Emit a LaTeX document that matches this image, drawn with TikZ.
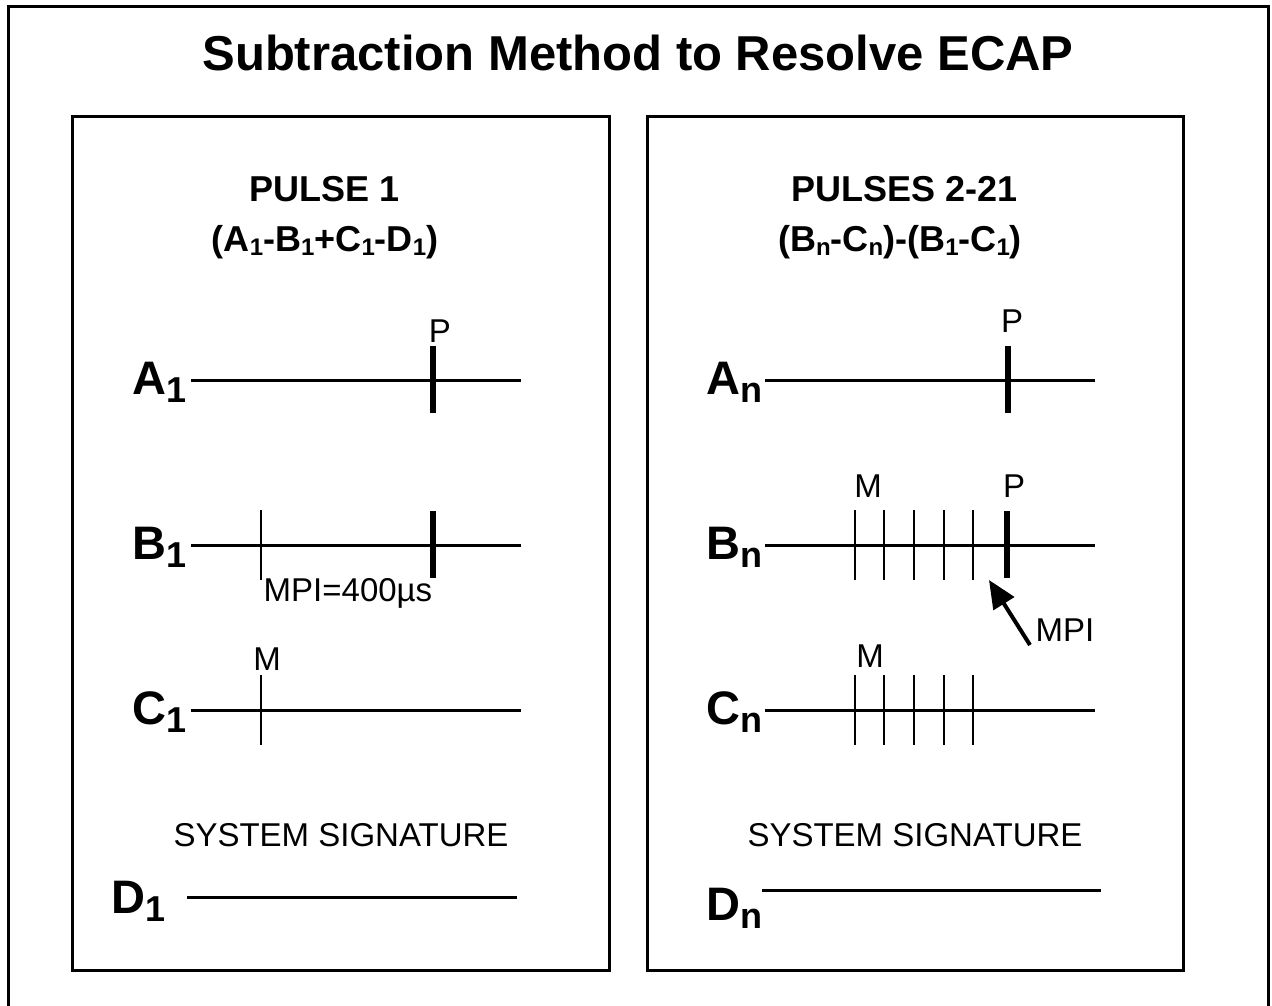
\documentclass[tikz,border=0pt]{standalone}
\usepackage{fontspec}
\setmainfont{Liberation Sans}
\usetikzlibrary{arrows.meta}
\newcommand{\biglab}[2]{{\fontsize{47}{47}\selectfont\bfseries #1\raisebox{-8pt}{\fontsize{36}{36}\selectfont #2}}}
\newcommand{\sbs}[1]{\raisebox{-4pt}{\fontsize{24}{24}\selectfont #1}}
\begin{document}
\begin{tikzpicture}[x=1pt,y=-1pt,
  frame/.style={line width=3pt},
  sig/.style={line width=3pt},
  thintick/.style={line width=2.8pt},
  thicktick/.style={line width=6pt},
  reg/.style={inner sep=0pt,anchor=base,font=\fontsize{33}{33}\selectfont},
  hdr/.style={inner sep=0pt,anchor=base,font=\fontsize{36}{40}\selectfont\bfseries},
  chlab/.style={inner sep=0pt,anchor=base east}]
\useasboundingbox (0,0) rectangle (1272,1006);
% frames
\draw[frame] (8,1020) -- (8,7) -- (1268,7) -- (1268,1020);
\draw[frame] (72,117) rectangle (609,970);
\draw[frame] (647,117) rectangle (1183,970);
% title
\node[inner sep=0pt,anchor=base,font=\fontsize{49}{55}\selectfont\bfseries] (title) at (638,71) {Subtraction Method to Resolve ECAP};
% left panel headers
\node[hdr] (h1) at (325,201) {PULSE 1};
\node[hdr] (h1f) at (325,251) {(A\sbs{1}-B\sbs{1}+C\sbs{1}-D\sbs{1})};
% right panel headers
\node[hdr] (h2) at (905,201) {PULSES 2-21};
\node[hdr] (h2f) at (900,251) {(B\sbs{n}-C\sbs{n})-(B\sbs{1}-C\sbs{1})};
% ---- left panel ----
\node[chlab] (A1) at (187,394) {\biglab{A}{1}};
\draw[sig] (191,380) -- (521,380);
\draw[thicktick] (433,346) -- (433,413);
\node[reg] (pA1) at (440,342) {P};

\node[chlab] (B1) at (187,559) {\biglab{B}{1}};
\draw[sig] (191,545) -- (521,545);
\draw[thintick] (261,510) -- (261,580);
\draw[thicktick] (433,511) -- (433,578);
\node[reg] (mpi1) at (348,601) {MPI=400µs};

\node[chlab] (C1) at (187,724) {\biglab{C}{1}};
\draw[sig] (191,710) -- (521,710);
\draw[thintick] (261,675) -- (261,745);
\node[reg] (mC1) at (267,670) {M};

\node[reg] (ss1) at (341,846) {SYSTEM SIGNATURE};
\node[chlab] (D1) at (166,913) {\biglab{D}{1}};
\draw[sig] (187,897) -- (517,897);
% ---- right panel ----
\node[chlab] (An) at (763,394) {\biglab{A}{n}};
\draw[sig] (765,380) -- (1095,380);
\draw[thicktick] (1008,346) -- (1008,413);
\node[reg] (pAn) at (1012,332) {P};

\node[chlab] (Bn) at (763,559) {\biglab{B}{n}};
\draw[sig] (765,545) -- (1095,545);
\foreach \xx in {855,884,914,944,973}{\draw[thintick] (\xx,510) -- (\xx,580);}
\draw[thicktick] (1007,511) -- (1007,578);
\node[reg] (mBn) at (868,497) {M};
\node[reg] (pBn) at (1014,497) {P};
\node[reg] (mpin) at (1065,641) {MPI};
\coordinate (arrS) at (1030,645);
\coordinate (arrE) at (989,580);
\draw[line width=4pt,-{Triangle[length=28pt,width=24pt]}] (arrS) -- (arrE);

\node[chlab] (Cn) at (763,724) {\biglab{C}{n}};
\draw[sig] (765,710) -- (1095,710);
\foreach \xx in {855,884,914,944,973}{\draw[thintick] (\xx,675) -- (\xx,745);}
\node[reg] (mCn) at (870,667) {M};

\node[reg] (ss2) at (915,846) {SYSTEM SIGNATURE};
\node[chlab] (Dn) at (763,920) {\biglab{D}{n}};
\draw[sig] (762,890) -- (1101,890);
\end{tikzpicture}
\end{document}
